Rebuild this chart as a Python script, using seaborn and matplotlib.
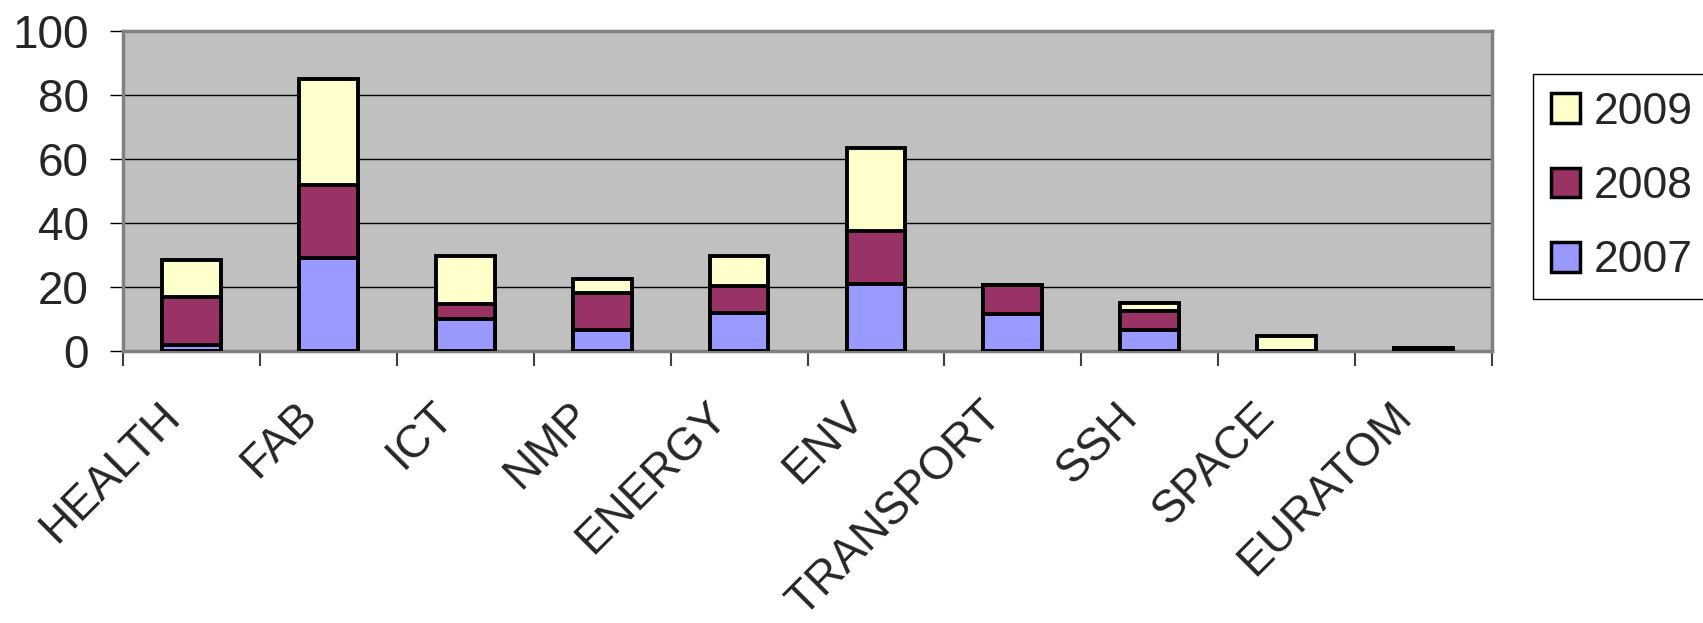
import matplotlib
matplotlib.use('Agg')
import matplotlib.pyplot as plt
import matplotlib.transforms as mtransforms
from matplotlib.patches import Patch
import seaborn as sns
import numpy as np
import pandas as pd

# Datos
categorias = ["HEALTH", "FAB", "ICT", "NMP", "ENERGY", "ENV",
              "TRANSPORT", "SSH", "SPACE", "EURATOM"]
v2007 = [2, 29, 10, 6.5, 12, 21, 11.5, 6.5, 0, 0]
v2008 = [15, 23, 4.7, 11.5, 8.3, 16.5, 9, 6, 0, 1]
v2009 = [11.5, 33, 15, 4.6, 9.3, 26, 0, 2.4, 4.6, 0]
anios = ["2007", "2008", "2009"]
colores = {"2007": "#9999FF", "2008": "#993366", "2009": "#FFFFCC"}
yticks = [0, 20, 40, 60, 80, 100]

sns.set_style("white")
plt.rcParams['font.family'] = ['Liberation Sans', 'DejaVu Sans']

df = pd.DataFrame({"cat": categorias, "2007": v2007, "2008": v2008, "2009": v2009})
df["c2007"] = df["2007"]
df["c2008"] = df["c2007"] + df["2008"]
df["c2009"] = df["c2008"] + df["2009"]

fig = plt.figure(figsize=(17.03, 6.23), dpi=100)
ax = fig.add_axes([123 / 1703, 1 - 351 / 623, (1492 - 123) / 1703, (351 - 31) / 623])
ax.set_facecolor("#C0C0C0")

# Barras apiladas: se dibujan los acumulados de arriba hacia abajo
for anio in ["2009", "2008", "2007"]:
    sns.barplot(data=df, x="cat", y="c" + anio, color=colores[anio],
                saturation=1, edgecolor="black", linewidth=2.8,
                width=0.43, errorbar=None, ax=ax, zorder=3)

ax.set_ylim(0, 100)
ax.set_xlim(-0.5, len(categorias) - 0.5)
ax.set_yticks(yticks)
ax.set_yticklabels([str(t) for t in yticks])
ax.yaxis.grid(True, color="black", linewidth=1)
ax.set_axisbelow(True)
ax.set_xlabel("")
ax.set_ylabel("")

for s in ax.spines.values():
    s.set_color("#808080")
    s.set_linewidth(2.5)
    s.set_visible(True)

ax.tick_params(axis="y", which="major", direction="out", length=9.5, width=1,
               color="black", labelsize=33, pad=15, left=True)
ax.set_xticks(range(len(categorias)))
ax.set_xticklabels(categorias, rotation=45, ha="right", va="top",
                   rotation_mode="anchor")
ax.set_xticks(np.arange(-0.5, len(categorias), 1), minor=True)
ax.tick_params(axis="x", which="major", length=0, labelsize=33, pad=31, bottom=True)
ax.tick_params(axis="x", which="minor", direction="out", length=11, width=1.5,
               color="#404040", bottom=True)

offset = mtransforms.ScaledTranslation(-34 / 100, 0, fig.dpi_scale_trans)
for lbl in ax.get_xticklabels():
    lbl.set_transform(lbl.get_transform() + offset)

handles = [Patch(facecolor=colores[a], edgecolor="black", linewidth=2.5, label=a)
           for a in ["2009", "2008", "2007"]]
leg = fig.legend(handles=handles, loc="upper left",
                 bbox_to_anchor=(1533 / 1703, 1 - 74 / 623),
                 fontsize=32, frameon=True, fancybox=False, framealpha=1,
                 edgecolor="black", borderpad=0.4, borderaxespad=0,
                 labelspacing=0.75, handlelength=0.66, handleheight=0.66,
                 handletextpad=0.3)
leg.get_frame().set_linewidth(1)

plt.savefig("out.png", dpi=100)
plt.close()
